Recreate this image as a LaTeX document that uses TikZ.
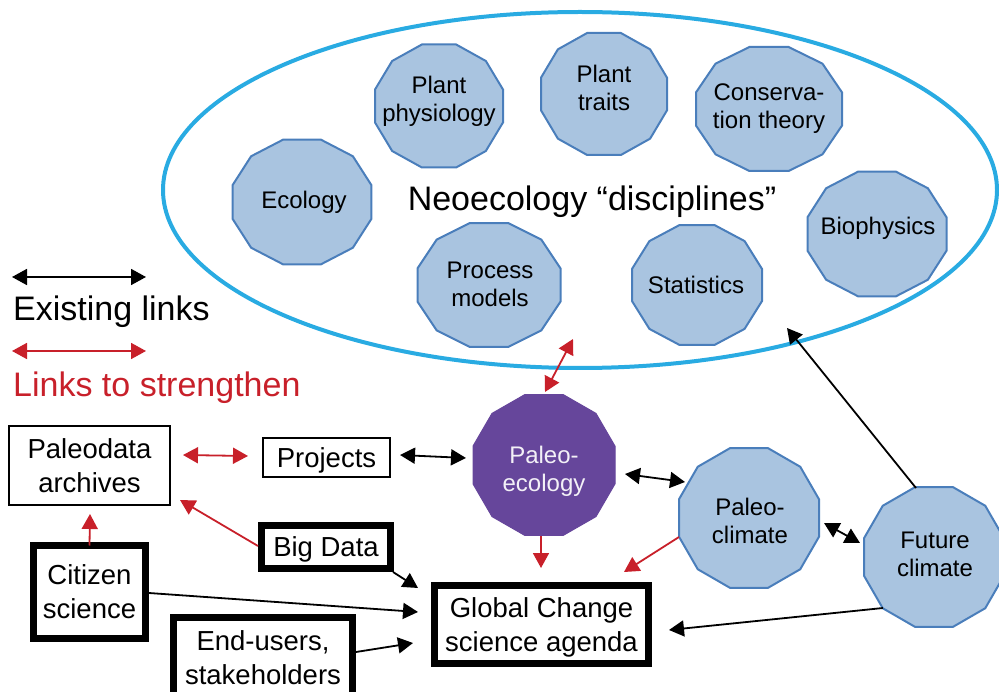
\documentclass[tikz,border=0pt]{standalone}
\usepackage{fontspec}
\setmainfont{Liberation Sans}
\usetikzlibrary{arrows.meta,shapes.geometric}
\definecolor{polyfill}{HTML}{A9C4E0}
\definecolor{polyline}{HTML}{4A7EBB}
\definecolor{purp}{HTML}{66469B}
\definecolor{ellcol}{HTML}{29ABE2}
\definecolor{arrred}{HTML}{C8202A}
\newcommand\dodec[9]{%
  \path[#1] plot[samples at={15,45,...,345}] ({#3+#5/2/cos(15)*cos(\x)},{#4+#6/2/cos(15)*sin(\x)}) -- cycle;
  \node[inner sep=0pt, outer sep=0pt, minimum width=#5, minimum height=#6] (#2) at (#3,#4) {};
  \node[#1 txt] (#2-t) at ({#3+#7},{#4+#8}) {#9};
}
\tikzset{
  >={Triangle[length=15pt,width=16pt]},
  dis/.style={fill=polyfill, draw=polyline, line width=2pt},
  dis txt/.style={align=center, inner sep=0pt, font=\fontsize{24}{28}\selectfont, text=black},
  pal/.style={fill=purp, draw=purp, line width=1pt},
  pal txt/.style={align=center, inner sep=0pt, font=\fontsize{24}{28}\selectfont, text=white!92!purp},
  thinbox/.style={draw, line width=1.5pt, inner sep=0pt, outer sep=0pt, align=center, text depth=0pt, font=\fontsize{27.5}{34}\selectfont},
  thickbox/.style={thinbox, line width=7pt},
  blk/.style={draw=black, line width=1.8pt},
  redarr/.style={draw=arrred, line width=1.8pt},
  legtxt/.style={anchor=base west, inner sep=0pt, font=\fontsize{34}{40}\selectfont}
}
\begin{document}
\begin{tikzpicture}[x=1pt,y=-1pt]
\useasboundingbox (0,0) rectangle (999,692);
\clip (0,0) rectangle (999,692);
% ellipse
\node[ellipse, draw=ellcol, line width=4pt, inner sep=0pt, outer sep=0pt, minimum width=834, minimum height=356] (neo) at (580,190) {};
\node[inner sep=0pt, anchor=base, font=\fontsize{34}{40}\selectfont] (neotxt) at (592,211) {Neoecology “disciplines”};
% polygons
\dodec{dis}{eco}{302}{202}{139}{125}{2}{0}{Ecology}
\dodec{dis}{pphys}{439}{106}{128}{123}{0}{-5}{Plant\\physiology}
\dodec{dis}{ptraits}{604}{94}{126}{122}{0}{-6}{Plant\\traits}
\dodec{dis}{cons}{769}{109}{146}{124}{0}{0}{Conserva-\\tion theory}
\dodec{dis}{bio}{877}{234}{139}{125}{1}{-6}{Biophysics}
\dodec{dis}{proc}{489}{285}{143}{124}{1}{-1}{Process\\models}
\dodec{dis}{stat}{697}{285}{130}{120}{-1}{0}{Statistics}
\dodec{pal}{pe}{544}{465}{142}{141}{0}{6}{Paleo-\\ecology}
\dodec{dis}{pc}{749}{518}{140}{140}{1}{3}{Paleo-\\climate}
\dodec{dis}{fc}{934}{557}{140}{140}{1}{-3}{Future\\climate}
% boxes
\node[thinbox, minimum width=161, minimum height=79] (pda) at (89.5,465.5) {Paleodata\\archives\hspace*{0pt}};
\node[thinbox, minimum width=127, minimum height=39] (proj) at (326.5,457.5) {Projects};
\node[thickbox, minimum width=129, minimum height=43] (bigd) at (326,547) {Big Data};
\node[thickbox, minimum width=112, minimum height=93] (cit) at (89.5,592) {Citizen\\science};
\node[thickbox, minimum width=179, minimum height=80] (endu) at (263,657.5) {End-users,\\stakeholders};
\node[thickbox, minimum width=214, minimum height=78] (gc) at (541.5,624.5) {Global Change\\science agenda};
% legend
\node[legtxt] (leg1) at (13,321) {Existing links};
\node[legtxt, text=arrred] (leg2) at (13,397) {Links to strengthen};
\draw[blk,<->] ([shift={(-1,-44)}]leg1.base west) -- ++(134,0);
\draw[redarr,<->] ([shift={(-1,-46)}]leg2.base west) -- ++(134,0);
% red links
\draw[redarr,<->] ([shift={(93.5,-10.5)}]pda.center) -- ([shift={(-78.5,-1.5)}]proj.center);
\draw[redarr,->] ([shift={(-68,-1)}]bigd.center) -- ([shift={(90.5,34.5)}]pda.center);
\draw[redarr,->] (cit.north) -- ([shift={(0.5,48.5)}]pda.center);
\draw[redarr,<->] ([shift={(1,-73)}]pe.center) -- ([shift={(-7,149)}]neo.center);
\draw[redarr,->] ([shift={(-3,71)}]pe.center) -- ([shift={(-0.5,-56.5)}]gc.center);
\draw[redarr,->] ([shift={(-70,19)}]pc.center) -- ([shift={(82.5,-52.5)}]gc.center);
% black links
\draw[blk,<->] ([shift={(73.5,-2.5)}]proj.center) -- ([shift={(-78,-7)}]pe.center);
\draw[blk,<->] ([shift={(81,9)}]pe.center) -- ([shift={(-64,-36)}]pc.center);
\draw[blk,<->] ([shift={(75,5)}]pc.center) -- ([shift={(-74,-14)}]fc.center);
\draw[blk,->] ([shift={(-18,-69)}]fc.center) -- ([shift={(207,138)}]neo.center);
\draw[blk,->] ([shift={(-51,51)}]fc.center) -- ([shift={(127.5,5.5)}]gc.center);
\draw[blk,->] ([shift={(67,25)}]bigd.center) -- ([shift={(-123.5,-36.5)}]gc.center);
\draw[blk,->] ([shift={(59.5,1)}]cit.center) -- ([shift={(-123.5,-12.5)}]gc.center);
\draw[blk,->] ([shift={(93,-5.5)}]endu.center) -- ([shift={(-128.5,18.5)}]gc.center);
\end{tikzpicture}
\end{document}
